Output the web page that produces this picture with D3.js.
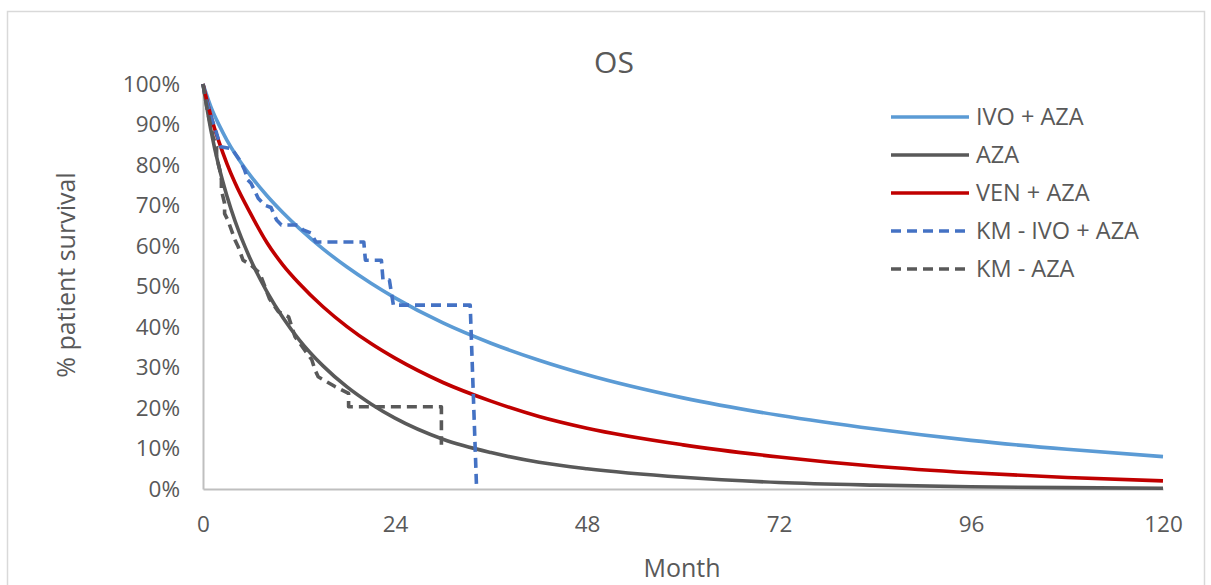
<!DOCTYPE html>
<html>
<head>
<meta charset="utf-8">
<script src="https://cdn.jsdelivr.net/npm/d3@7"></script>
<style>
  html, body { margin: 0; padding: 0; background: #fff; }
  svg { display: block; font-family: "Open Sans", "Noto Sans", sans-serif; }
</style>
</head>
<body>
<svg id="chart" width="1211" height="585"></svg>
<script>
// ---- data ----
const months   = [0, 1, 2, 3, 4, 6, 8, 10, 12, 15, 18, 21, 24, 30, 36, 42, 48, 60, 72, 84, 96, 108, 120];
const ivoAza   = [100, 94.3, 89.9, 86.1, 82.8, 77.2, 72.4, 68.2, 64.4, 59.3, 54.8, 50.8, 47.2, 41.0, 36.0, 31.8, 28.2, 22.5, 18.2, 14.8, 12.0, 9.8, 8.0];
const aza      = [100, 88.5, 79.5, 72.3, 66.2, 56.4, 48.7, 42.3, 36.9, 30.4, 25.2, 21.0, 17.5, 12.3, 9.0, 6.6, 5.0, 2.9, 1.6, 0.95, 0.55, 0.33, 0.2];
const venAza   = [100, 92, 85.7, 80.3, 75.6, 67.8, 60.8, 55.3, 50.8, 45.0, 40.1, 35.9, 32.3, 26.3, 21.7, 17.9, 15.0, 10.9, 7.9, 5.6, 4.0, 2.85, 2.0];

const kmIvoMonths = [0, 0.2, 1.0, 1.7, 2.2, 3.6, 4.6, 5.2, 5.6, 6.0, 6.9, 7.7, 8.5, 9.2, 9.8, 11.9, 12.5, 13.5, 14.1, 20.1, 20.3, 22.3, 22.5, 23.3, 23.8, 33.4, 34.2];
const kmIvoSurv   = [100, 97.7, 92, 87.8, 84.5, 84, 81.2, 78.8, 76.3, 75.5, 71.8, 70.1, 69.5, 66.4, 65.2, 65.2, 64, 63.2, 61, 61, 56.5, 56.5, 51.6, 51.6, 45.4, 45.4, 0];

const kmAzaMonths = [0, 0.5, 1.25, 1.7, 1.7, 2.1, 2.3, 2.3, 2.7, 2.7, 3.1, 4.0, 4.4, 5.0, 6.0, 6.7, 7.1, 8.3, 9.4, 10.7, 11.5, 13.6, 14.0, 14.4, 16.5, 18.2, 18.2, 29.8, 29.8];
const kmAzaSurv   = [100, 94, 87, 84.5, 82, 78.8, 76.3, 73.8, 70.5, 68, 66.4, 61.5, 59.8, 56.5, 55.3, 54, 53.3, 47, 43.8, 42.5, 37.6, 31.9, 29.4, 27.7, 25.3, 23.6, 20.3, 20.3, 10.9];

const xTicks = [0, 24, 48, 72, 96, 120];
const yTicks = [0, 10, 20, 30, 40, 50, 60, 70, 80, 90, 100];
const seriesNames = ["IVO + AZA", "AZA", "VEN + AZA", "KM - IVO + AZA", "KM - AZA"];
const chartTitle = "OS";
const xTitle = "Month";
const yTitle = "% patient survival";

// ---- drawing ----
const svg = d3.select("#chart");
const textColor = "#595959";

// chart border
svg.append("rect")
  .attr("x", 7.5).attr("y", 11.5).attr("width", 1197).attr("height", 600)
  .attr("fill", "#fff").attr("stroke", "#D9D9D9").attr("stroke-width", 1.5);

const x = d3.scaleLinear().domain([0, 120]).range([203, 1163]);
const y = d3.scaleLinear().domain([0, 100]).range([489, 84]);

// axes
const xAxis = svg.append("g").attr("transform", `translate(0,${y(0)})`)
  .call(d3.axisBottom(x).tickValues(xTicks).tickSize(0).tickSizeOuter(0).tickPadding(27).tickFormat(d3.format("d")));
const yAxis = svg.append("g").attr("transform", `translate(${x(0)},0)`)
  .call(d3.axisLeft(y).tickValues(yTicks).tickSize(0).tickSizeOuter(0).tickPadding(23).tickFormat(d => d + "%"));

[xAxis, yAxis].forEach(g => {
  g.select(".domain").attr("stroke", "#BFBFBF").attr("stroke-width", 2);
  g.selectAll("text").attr("fill", textColor).style("font-size", "22.5px")
    .style("font-family", '"Open Sans", sans-serif');
});

// titles
svg.append("text").attr("x", 614).attr("y", 73).attr("text-anchor", "middle")
  .attr("fill", textColor).style("font-size", "30px").text(chartTitle);
svg.append("text").attr("x", 682).attr("y", 577).attr("text-anchor", "middle")
  .attr("fill", textColor).style("font-size", "25px").text(xTitle);
svg.append("text").attr("transform", "translate(75,275) rotate(-90)").attr("text-anchor", "middle")
  .attr("fill", textColor).style("font-size", "25px").text(yTitle);

// series
const smooth = d3.line().x(d => x(d[0])).y(d => y(d[1])).curve(d3.curveMonotoneX);
const straight = d3.line().x(d => x(d[0])).y(d => y(d[1]));

const series = [
  { name: seriesNames[0], pts: d3.zip(months, ivoAza), color: "#5B9BD5", dash: null, gen: smooth },
  { name: seriesNames[1], pts: d3.zip(months, aza), color: "#595959", dash: null, gen: smooth },
  { name: seriesNames[2], pts: d3.zip(months, venAza), color: "#C00000", dash: null, gen: smooth },
  { name: seriesNames[3], pts: d3.zip(kmIvoMonths, kmIvoSurv), color: "#4472C4", dash: "10,6", gen: straight },
  { name: seriesNames[4], pts: d3.zip(kmAzaMonths, kmAzaSurv), color: "#595959", dash: "10,6", gen: straight }
];

series.forEach(s => {
  svg.append("path").attr("d", s.gen(s.pts))
    .attr("fill", "none").attr("stroke", s.color).attr("stroke-width", 3.6)
    .attr("stroke-linejoin", "round")
    .attr("stroke-dasharray", s.dash);
});

// legend
const legendY = [117, 155, 193, 231, 269];
series.forEach((s, i) => {
  const g = svg.append("g").attr("transform", `translate(0,${legendY[i]})`);
  g.append("line").attr("x1", 891).attr("x2", 969).attr("y1", 0).attr("y2", 0)
    .attr("stroke", s.color).attr("stroke-width", 3.6).attr("stroke-dasharray", s.dash);
  g.append("text").attr("x", 976).attr("y", 0).attr("dy", "0.35em")
    .attr("fill", textColor).style("font-size", "23.5px").text(s.name);
});
</script>
</body>
</html>
